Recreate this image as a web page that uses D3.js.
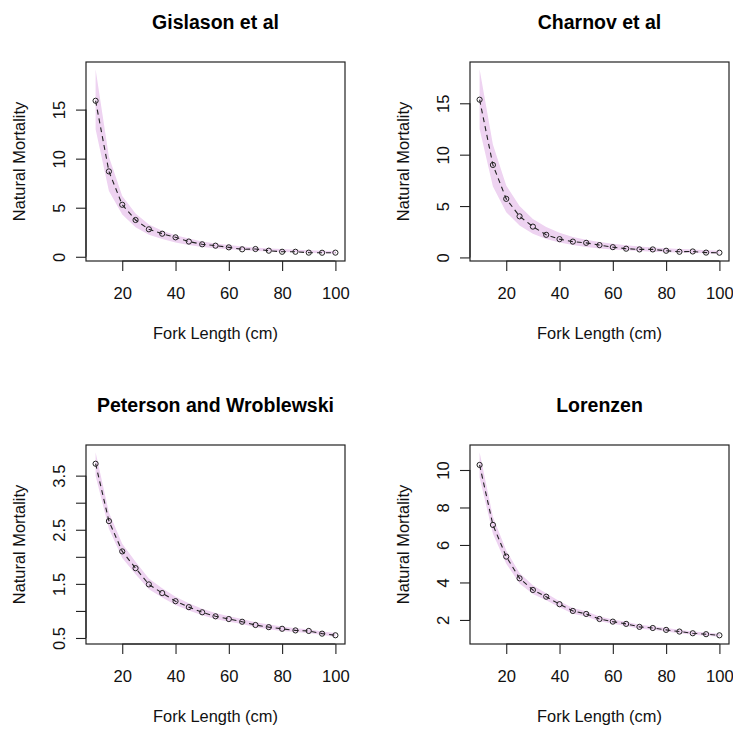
<!DOCTYPE html>
<html lang="en">
<head>
  <meta charset="utf-8" />
  <title>Natural Mortality vs Fork Length</title>
  <script src="https://d3js.org/d3.v7.min.js"></script>
  <style>
    html, body {
      margin: 0;
      padding: 0;
      background: #fff;
      overflow: hidden;
      font-family: "Liberation Sans", Arial, sans-serif;
    }
    .axis text { font-size: 16.6px; fill: #111; font-family: "Liberation Sans", Arial, sans-serif; }
    .axis line { stroke: #222; stroke-width: 1.1px; }
    .title { font-size: 19.5px; font-weight: bold; fill: #000; }
    .lab { font-size: 16.4px; fill: #111; }
  </style>
</head>
<body>
<script>
// fork lengths (cm) sampled every 5 cm
const lengths = [10, 15, 20, 25, 30, 35, 40, 45, 50, 55, 60, 65, 70, 75, 80, 85, 90, 95, 100];
const xTicks = [20, 40, 60, 80, 100];

// median estimates + band
const gislasonMid = [15.9, 8.7, 5.3, 3.75, 2.8, 2.35, 1.98, 1.55, 1.27, 1.13, 0.96, 0.76, 0.79, 0.62, 0.51, 0.51, 0.42, 0.41, 0.42];
const gislasonHi  = [19.1, 10.2, 6.2, 4.4, 3.3, 2.65, 2.2, 1.85, 1.55, 1.35, 1.2, 1.05, 0.95, 0.85, 0.78, 0.72, 0.66, 0.62, 0.58];
const gislasonLo  = [13.0, 6.7, 4.3, 3.0, 2.25, 1.8, 1.45, 1.2, 1.0, 0.87, 0.77, 0.68, 0.6, 0.54, 0.49, 0.45, 0.41, 0.37, 0.32];

const charnovMid = [15.35, 9.0, 5.7, 4.0, 3.0, 2.2, 1.78, 1.54, 1.42, 1.2, 1.0, 0.85, 0.78, 0.78, 0.65, 0.55, 0.58, 0.47, 0.46];
const charnovHi  = [18.3, 11.0, 7.0, 5.0, 3.75, 2.95, 2.4, 2.0, 1.72, 1.5, 1.32, 1.18, 1.06, 0.97, 0.89, 0.82, 0.76, 0.71, 0.66];
const charnovLo  = [12.5, 6.9, 4.4, 3.1, 2.3, 1.8, 1.45, 1.2, 1.02, 0.88, 0.78, 0.69, 0.62, 0.56, 0.51, 0.47, 0.43, 0.4, 0.37];

const petersonMid = [3.72, 2.66, 2.10, 1.79, 1.49, 1.33, 1.18, 1.07, 0.975, 0.90, 0.85, 0.80, 0.74, 0.70, 0.67, 0.64, 0.63, 0.58, 0.55];
const petersonHi  = [3.93, 2.82, 2.24, 1.91, 1.6, 1.42, 1.26, 1.14, 1.04, 0.96, 0.9, 0.85, 0.79, 0.75, 0.71, 0.68, 0.66, 0.62, 0.59];
const petersonLo  = [3.5, 2.52, 1.98, 1.68, 1.4, 1.25, 1.11, 1.01, 0.92, 0.85, 0.8, 0.76, 0.7, 0.66, 0.63, 0.61, 0.59, 0.555, 0.525];

const lorenzenMid = [10.27, 7.07, 5.38, 4.22, 3.6, 3.24, 2.84, 2.48, 2.32, 2.05, 1.91, 1.79, 1.63, 1.57, 1.47, 1.38, 1.29, 1.24, 1.18];
const lorenzenHi  = [10.94, 7.5, 5.7, 4.5, 3.85, 3.42, 3.0, 2.64, 2.46, 2.18, 2.03, 1.9, 1.74, 1.67, 1.57, 1.48, 1.39, 1.33, 1.26];
const lorenzenLo  = [9.6, 6.6, 5.0, 3.95, 3.38, 3.05, 2.68, 2.33, 2.18, 1.93, 1.8, 1.68, 1.53, 1.48, 1.38, 1.29, 1.21, 1.16, 1.11];

const panels = [
  { title: "Gislason et al", mid: gislasonMid, hi: gislasonHi, lo: gislasonLo,
    yTicks: [0, 5, 10, 15], yLabels: [0, 5, 10, 15] },
  { title: "Charnov et al", mid: charnovMid, hi: charnovHi, lo: charnovLo,
    yTicks: [0, 5, 10, 15], yLabels: [0, 5, 10, 15] },
  { title: "Peterson and Wroblewski", mid: petersonMid, hi: petersonHi, lo: petersonLo,
    yTicks: [0.5, 1, 1.5, 2, 2.5, 3, 3.5], yLabels: [0.5, 1.5, 2.5, 3.5] },
  { title: "Lorenzen", mid: lorenzenMid, hi: lorenzenHi, lo: lorenzenLo,
    yTicks: [2, 4, 6, 8, 10], yLabels: [2, 4, 6, 8, 10] }
];

const width = 733, height = 729;
const boxW = 259, boxH = 199;
const origins = [[86, 62], [470, 62], [86, 445], [470, 445]];

const svg = d3.select("body").append("svg")
  .attr("width", width)
  .attr("height", height);

// R-style 4% range extension
function extend(lo, hi) {
  const d = (hi - lo) * 0.04;
  return [lo - d, hi + d];
}

panels.forEach((p, i) => {
  const [ox, oy] = origins[i];
  const g = svg.append("g").attr("transform", `translate(${ox},${oy})`);

  const x = d3.scaleLinear()
    .domain(extend(d3.min(lengths), d3.max(lengths)))
    .range([0, boxW]);
  const y = d3.scaleLinear()
    .domain(extend(d3.min(p.lo.concat(p.mid)), d3.max(p.hi.concat(p.mid))))
    .range([boxH, 0]);

  const rows = lengths.map((L, j) => ({ L, m: p.mid[j], hi: p.hi[j], lo: p.lo[j] }));

  // confidence band
  g.append("path")
    .datum(rows)
    .attr("fill", "#eed3f1")
    .attr("d", d3.area().x(d => x(d.L)).y0(d => y(d.lo)).y1(d => y(d.hi)));

  // dashed line
  g.append("path")
    .datum(rows)
    .attr("fill", "none")
    .attr("stroke", "#222")
    .attr("stroke-width", 1.1)
    .attr("stroke-dasharray", "5,4")
    .attr("d", d3.line().x(d => x(d.L)).y(d => y(d.m)));

  // open circles
  g.selectAll("circle")
    .data(rows)
    .enter().append("circle")
    .attr("cx", d => x(d.L))
    .attr("cy", d => y(d.m))
    .attr("r", 2.6)
    .attr("fill", "none")
    .attr("stroke", "#222")
    .attr("stroke-width", 1);

  // box
  g.append("rect")
    .attr("width", boxW).attr("height", boxH)
    .attr("fill", "none")
    .attr("stroke", "#222")
    .attr("stroke-width", 1.2);

  // x axis
  const xa = g.append("g")
    .attr("class", "axis")
    .attr("transform", `translate(0,${boxH})`)
    .call(d3.axisBottom(x).tickValues(xTicks).tickSize(10).tickSizeOuter(0).tickPadding(13));
  xa.select(".domain").remove();
  xa.append("line")
    .attr("x1", x(xTicks[0])).attr("x2", x(xTicks[xTicks.length - 1]))
    .attr("stroke", "#222");
  xa.selectAll("text").attr("dy", null).attr("y", 38);

  // y axis
  const ya = g.append("g")
    .attr("class", "axis")
    .call(d3.axisLeft(y).tickValues(p.yTicks).tickSize(10).tickSizeOuter(0)
      .tickFormat(v => p.yLabels.includes(v) ? String(v) : ""));
  ya.select(".domain").remove();
  ya.append("line")
    .attr("y1", y(p.yTicks[0])).attr("y2", y(p.yTicks[p.yTicks.length - 1]))
    .attr("stroke", "#222");
  ya.selectAll("text")
    .attr("x", 0).attr("dy", null).attr("y", -21.5)
    .attr("text-anchor", "middle")
    .attr("transform", "rotate(-90)");

  // titles and labels
  g.append("text")
    .attr("class", "title")
    .attr("x", boxW / 2).attr("y", -33)
    .attr("text-anchor", "middle")
    .text(p.title);

  g.append("text")
    .attr("class", "lab")
    .attr("x", boxW / 2).attr("y", boxH + 78)
    .attr("text-anchor", "middle")
    .text("Fork Length (cm)");

  g.append("text")
    .attr("class", "lab")
    .attr("transform", `translate(-61,${boxH / 2}) rotate(-90)`)
    .attr("text-anchor", "middle")
    .text("Natural Mortality");
});
</script>
</body>
</html>
